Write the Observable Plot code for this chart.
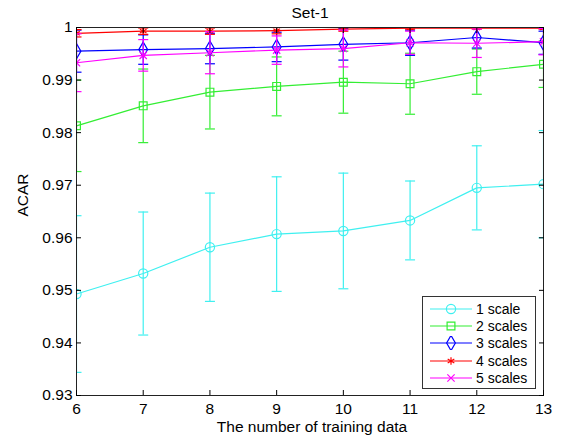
<!DOCTYPE html>
<html><head><meta charset="utf-8">
<script src="https://cdn.jsdelivr.net/npm/d3@7"></script>
<script src="https://cdn.jsdelivr.net/npm/@observablehq/plot@0.6"></script>
<style>
body{margin:0;background:#fff;}
#wrap{position:relative;width:562px;height:439px;font-family:"Liberation Sans",Arial,sans-serif;}
#legend{position:absolute;left:422px;top:296px;width:114px;height:93px;border:1px solid #333;background:#fff;box-sizing:border-box;padding-top:3px;}
.row{display:flex;align-items:center;height:17.4px;font-size:14px;color:#000;}
.row svg{margin-left:7px;margin-right:4px;}
</style></head><body><div id="wrap"></div>
<script>
const xs = [6, 7, 8, 9, 10, 11, 12, 13];
const yTicks = [0.93, 0.94, 0.95, 0.96, 0.97, 0.98, 0.99, 1];
const seriesNames = ["1 scale", "2 scales", "3 scales", "4 scales", "5 scales"];
const mean1 = [0.9493, 0.9532, 0.9582, 0.9607, 0.9613, 0.9633, 0.9695, 0.9702];
const err1  = [0.0149, 0.0117, 0.0103, 0.0109, 0.0110, 0.0075, 0.0080, 0.0102];
const mean2 = [0.9813, 0.9851, 0.9877, 0.9888, 0.9896, 0.9893, 0.9916, 0.9930];
const err2  = [0.0087, 0.0070, 0.0070, 0.0056, 0.0059, 0.0058, 0.0043, 0.0044];
const mean3 = [0.9955, 0.9958, 0.9960, 0.9963, 0.9968, 0.9971, 0.9981, 0.9971];
const err3  = [0.0040, 0.0028, 0.0029, 0.0028, 0.0030, 0.0024, 0.0020, 0.0022];
const mean4 = [0.9989, 0.9993, 0.9993, 0.9994, 0.9997, 0.9999, 0.9999, 0.9999];
const err4  = [0.0007, 0.0006, 0.0006, 0.0006, 0.0004, 0.0002, 0.0002, 0.0002];
const mean5 = [0.9933, 0.9947, 0.9952, 0.9957, 0.9960, 0.9971, 0.9970, 0.9973];
const err5  = [0.0055, 0.0030, 0.0040, 0.0027, 0.0035, 0.0022, 0.0027, 0.0025];

const colors = ["#3ff0f0", "#33ee33", "#0000ff", "#ff0000", "#ff00ff"];
const symbols = ["circle", "square", "diamond", "asterisk", "times"];
const d3symbols = [d3.symbolCircle, d3.symbolSquare, d3.symbolDiamond, d3.symbolAsterisk, d3.symbolTimes];
const radii = [4.6, 4.4, 4.6, 3.6, 3.4];
const means = [mean1, mean2, mean3, mean4, mean5];
const errs = [err1, err2, err3, err4, err5];

const cap = {draw(ctx) { ctx.moveTo(-5, 0); ctx.lineTo(5, 0); }};

const marks = [];
seriesNames.forEach((name, i) => {
  const d = xs.map((x, j) => ({series: name, x, y: means[i][j], e: errs[i][j]}));
  const st = {stroke: colors[i], strokeWidth: 1.2, clip: "frame"};
  marks.push(Plot.ruleX(d, {x: "x", y1: v => v.y - v.e, y2: v => v.y + v.e, ...st}));
  marks.push(Plot.dot(d, {x: "x", y: v => v.y + v.e, symbol: cap, fill: "none", ...st}));
  marks.push(Plot.dot(d, {x: "x", y: v => v.y - v.e, symbol: cap, fill: "none", ...st}));
  marks.push(Plot.line(d, {x: "x", y: "y", ...st}));
  marks.push(Plot.dot(d, {x: "x", y: "y", symbol: () => symbols[i], r: radii[i], fill: "none", ...st}));
});

const FS = 15.5;
const fmt = v => v === 1 ? "1" : v.toFixed(2);
const chart = Plot.plot({
  width: 562, height: 439,
  marginLeft: 76, marginRight: 19, marginTop: 27, marginBottom: 44,
  style: {fontFamily: "'Liberation Sans', Arial, sans-serif", fontSize: FS + "px", background: "#fff", color: "#000"},
  x: {domain: [6, 13]},
  y: {domain: [0.93, 1]},
  symbol: {domain: symbols, range: symbols},
  marks: [
    ...marks,
    Plot.frame({stroke: "#222", strokeWidth: 1}),
    Plot.axisX({ticks: xs, tickSize: -5, tickPadding: 12, tickFormat: d => String(d), label: null, fontSize: FS}),
    Plot.axisX({anchor: "top", ticks: xs, tickSize: -5, tickFormat: () => "", label: null}),
    Plot.axisY({ticks: yTicks, tickSize: -5, tickPadding: 9, tickFormat: fmt, label: null, fontSize: FS}),
    Plot.axisY({anchor: "right", ticks: yTicks, tickSize: -5, tickFormat: () => "", label: null}),
    Plot.text(["Set-1"], {frameAnchor: "top", lineAnchor: "middle", dy: -14, text: d => d, fontSize: FS}),
    Plot.text(["ACAR"], {frameAnchor: "left", lineAnchor: "middle", dx: -53, dy: 5, rotate: -90, text: d => d, fontSize: FS}),
    Plot.text(["The number of training data"], {frameAnchor: "bottom", lineAnchor: "middle", dx: 2, dy: 32, text: d => d, fontSize: FS})
  ]
});
const wrap = document.getElementById("wrap");
wrap.appendChild(chart);

const legend = document.createElement("div");
legend.id = "legend";
seriesNames.forEach((name, i) => {
  const row = document.createElement("div");
  row.className = "row";
  const svg = d3.create("svg").attr("width", 42).attr("height", 14);
  svg.append("line").attr("x1", 0).attr("x2", 42).attr("y1", 7).attr("y2", 7)
    .attr("stroke", colors[i]).attr("stroke-width", 1.2);
  svg.append("path").attr("transform", "translate(21,7)")
    .attr("d", d3.symbol(d3symbols[i], radii[i] * radii[i] * Math.PI)())
    .attr("fill", "none").attr("stroke", colors[i]).attr("stroke-width", 1.2);
  row.appendChild(svg.node());
  const t = document.createElement("span");
  t.textContent = name;
  row.appendChild(t);
  legend.appendChild(row);
});
wrap.appendChild(legend);
</script>
</body></html>
